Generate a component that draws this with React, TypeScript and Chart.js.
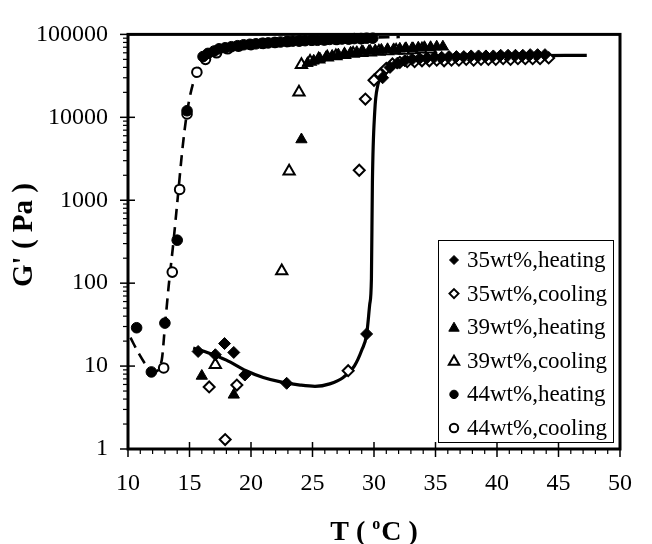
import React, { useEffect, useRef } from "react";
import { Chart, registerables } from "chart.js";

Chart.register(...registerables);

const SERIF = '"Liberation Serif", "Times New Roman", Times, serif';

// Axis ticks
const xTicks = [10, 15, 20, 25, 30, 35, 40, 45, 50];
const yTicks = [1, 10, 100, 1000, 10000, 100000];

// 35 wt% — heating (filled diamonds)
const t35Heat = [15.7, 17.1, 17.85, 18.6, 19.5, 22.9, 29.4, 30.7, 31.3, 31.9, 32.5, 33.1, 33.7, 34.3, 34.9, 35.5, 36.1, 36.7, 37.3, 37.9, 38.5, 39.1, 39.7, 40.3, 40.9, 41.5, 42.1, 42.7, 43.3, 43.9];
const g35Heat = [15, 13.7, 18.7, 14.6, 7.8, 6.2, 24.4, 30000, 40000, 45000, 48000, 50000, 51000, 52000, 53000, 53000, 54000, 54000, 54000, 55000, 55000, 55000, 55000, 56000, 56000, 56000, 56000, 57000, 57000, 57000];

// 35 wt% — cooling (open diamonds)
const t35Cool = [16.6, 17.9, 18.85, 27.9, 28.8, 29.3, 30.0, 30.5, 31.0, 31.5, 32.1, 32.7, 33.3, 33.9, 34.5, 35.1, 35.7, 36.3, 36.9, 37.5, 38.1, 38.7, 39.3, 39.9, 40.5, 41.1, 41.7, 42.3, 42.9, 43.5, 44.2];
const g35Cool = [5.6, 1.3, 5.9, 8.8, 2300, 16600, 28000, 33000, 39000, 44000, 46000, 47000, 47000, 48000, 48000, 49000, 48000, 49000, 49000, 50000, 49000, 50000, 50000, 50000, 51000, 50000, 51000, 51000, 51000, 51000, 52000];

// 39 wt% — heating (filled triangles)
const t39Heat = [16.0, 18.6, 24.1, 24.6, 25.1, 25.6, 26.1, 26.6, 27.1, 27.6, 28.1, 28.6, 29.1, 29.6, 30.1, 30.6, 31.1, 31.6, 32.1, 32.6, 33.1, 33.6, 34.1, 34.6, 35.1, 35.6];
const g39Heat = [7.6, 4.5, 5400, 45000, 48000, 51000, 53000, 55000, 57000, 58000, 60000, 61000, 62000, 63000, 64000, 65000, 66000, 66000, 67000, 68000, 68000, 69000, 70000, 70000, 71000, 71000];

// 39 wt% — cooling (open triangles)
const t39Cool = [17.1, 22.5, 23.1, 23.9, 24.1, 24.8, 25.5, 26.2, 26.9, 27.6, 28.3, 29.0, 29.7, 30.4, 31.1, 31.8, 32.5, 33.2, 33.9, 34.6];
const g39Cool = [10.4, 140, 2240, 20000, 43000, 47000, 50000, 53000, 55000, 57000, 59000, 60000, 61000, 62000, 63000, 64000, 64000, 65000, 66000, 66000];

// 44 wt% — heating (filled circles)
const t44Heat = [10.7, 11.9, 13.0, 14.0, 14.8, 16.1, 16.5, 17.0, 17.4, 17.9, 18.4, 18.9, 19.4, 19.9, 20.4, 20.9, 21.4, 21.9, 22.4, 22.9, 23.4, 23.9, 24.4, 24.9, 25.4, 25.9, 26.4, 26.9, 27.4, 27.9, 28.4, 28.9, 29.4, 29.9];
const g44Heat = [29, 8.5, 33, 330, 12000, 54000, 59000, 63000, 67000, 69000, 71000, 73000, 75000, 76000, 77000, 78000, 79000, 80000, 81000, 82000, 83000, 83000, 84000, 85000, 85000, 86000, 87000, 87000, 88000, 88000, 89000, 89000, 90000, 90000];

// 44 wt% — cooling (open circles)
const t44Cool = [12.9, 13.6, 14.2, 14.8, 15.6, 16.3, 17.2, 18.1, 19.0, 20.0, 21.0, 22.0, 23.0, 24.0, 25.0, 26.0, 27.0, 28.0, 29.0];
const g44Cool = [9.5, 136, 1350, 11000, 35000, 50000, 60000, 67000, 72000, 75000, 78000, 80000, 82000, 84000, 85000, 86000, 87000, 88000, 89000];

// Guide curves
const fit35T = [15.3, 16.5, 18.0, 19.6, 21.0, 22.5, 24.0, 25.2, 26.4, 27.5, 28.4, 29.0, 29.4, 29.65, 29.79, 29.87, 30.06, 30.3, 30.7, 31.24, 32.3, 34.0, 37.0, 42.0, 47.3];
const fit35G = [16.5, 14.5, 11.8, 8.8, 7.3, 6.4, 5.9, 5.7, 6.1, 7.3, 10, 15.5, 24, 55, 113, 1650, 11700, 24000, 31500, 41000, 48000, 51000, 53000, 55000, 56000];
const fit44T = [10.2, 10.9, 11.5, 12.2, 12.75, 13.0, 13.3, 13.7, 14.05, 14.45, 14.8, 15.3, 15.9, 16.8, 18.5, 21.0, 25.0, 29.0, 32.1];
const fit44G = [22, 14, 10.2, 8.6, 12, 30, 90, 320, 1100, 4500, 11500, 26000, 43000, 57000, 71000, 80000, 87000, 91000, 93000];

const legendLabels = ["35wt%,heating", "35wt%,cooling", "39wt%,heating", "39wt%,cooling", "44wt%,heating", "44wt%,cooling"];
const legendShapes = ["rectRot", "rectRot", "triangle", "triangle", "circle", "circle"];
const legendFilled = [true, false, true, false, true, false];

const pts = (t: number[], g: number[]) => t.map((x, i) => ({ x, y: g[i] }));

function drawMarker(ctx: CanvasRenderingContext2D, kind: string, x: number, y: number, r: number, filled: boolean) {
  ctx.beginPath();
  if (kind === "circle") {
    ctx.arc(x, y, r, 0, Math.PI * 2);
  } else if (kind === "rectRot") {
    ctx.moveTo(x, y - r);
    ctx.lineTo(x + r, y);
    ctx.lineTo(x, y + r);
    ctx.lineTo(x - r, y);
    ctx.closePath();
  } else {
    ctx.moveTo(x, y - r);
    ctx.lineTo(x + r * 0.866, y + r * 0.5);
    ctx.lineTo(x - r * 0.866, y + r * 0.5);
    ctx.closePath();
  }
  ctx.fillStyle = filled ? "#000" : "#fff";
  ctx.fill();
  ctx.lineWidth = filled ? 1 : 2;
  ctx.strokeStyle = "#000";
  ctx.stroke();
}

// Frame, tick marks, axis titles and legend
const decorPlugin = {
  id: "decor",
  afterDraw(chart: any) {
    const { ctx, chartArea: a, scales } = chart;
    const xs = scales.x;
    const ys = scales.y;
    const line = (x1: number, y1: number, x2: number, y2: number) => {
      ctx.beginPath();
      ctx.moveTo(x1, y1);
      ctx.lineTo(x2, y2);
      ctx.stroke();
    };
    ctx.save();
    ctx.strokeStyle = "#000";

    // x minor ticks (every degree)
    ctx.lineWidth = 1.2;
    for (let t = 10; t <= 50; t++) {
      if (t % 5 === 0) continue;
      const px = xs.getPixelForValue(t);
      line(px, a.bottom, px, a.bottom + 5);
    }
    // x major ticks
    ctx.lineWidth = 1.5;
    xTicks.forEach((t) => {
      const px = xs.getPixelForValue(t);
      line(px, a.bottom - 7, px, a.bottom + 8);
    });
    // y minor ticks
    ctx.lineWidth = 1.2;
    for (let d = 0; d < 5; d++) {
      for (let m = 2; m <= 9; m++) {
        const py = ys.getPixelForValue(m * Math.pow(10, d));
        line(a.left - 5, py, a.left, py);
      }
    }
    // y major ticks
    ctx.lineWidth = 1.5;
    yTicks.forEach((v) => {
      const py = ys.getPixelForValue(v);
      line(a.left - 8, py, a.left + 7, py);
    });

    // plot frame
    ctx.lineWidth = 3;
    ctx.strokeRect(a.left, a.top, a.right - a.left, a.bottom - a.top);

    // x title: T ( °C )
    ctx.fillStyle = "#000";
    ctx.textBaseline = "alphabetic";
    ctx.textAlign = "left";
    const big = `bold 28px ${SERIF}`;
    const small = `bold 16px ${SERIF}`;
    ctx.font = big;
    const w1 = ctx.measureText("T ( ").width;
    const w3 = ctx.measureText("C )").width;
    ctx.font = small;
    const w2 = ctx.measureText("o").width + 1;
    const cx = (a.left + a.right) / 2;
    const x0 = cx - (w1 + w2 + w3) / 2;
    const base = 540;
    ctx.font = big;
    ctx.fillText("T ( ", x0, base);
    ctx.font = small;
    ctx.fillText("o", x0 + w1, base - 11);
    ctx.font = big;
    ctx.fillText("C )", x0 + w1 + w2, base);

    // y title
    ctx.save();
    ctx.translate(25, 235);
    ctx.rotate(-Math.PI / 2);
    ctx.textAlign = "center";
    ctx.textBaseline = "middle";
    ctx.font = `bold 29px ${SERIF}`;
    ctx.fillText("G' ( Pa )", 0, 0);
    ctx.restore();

    // legend
    const lx = 438, ly = 240, lw = 175, lh = 202;
    ctx.fillStyle = "#fff";
    ctx.fillRect(lx, ly, lw, lh);
    ctx.lineWidth = 1;
    ctx.strokeStyle = "#000";
    ctx.strokeRect(lx + 0.5, ly + 0.5, lw, lh);
    ctx.font = `23px ${SERIF}`;
    ctx.textAlign = "left";
    ctx.textBaseline = "middle";
    legendLabels.forEach((lab, i) => {
      const y = ly + 20 + i * 33.6;
      const r = legendShapes[i] === "triangle" ? 6 : legendShapes[i] === "circle" ? 4.2 : 4.5;
      drawMarker(ctx, legendShapes[i], lx + 16, y + (legendShapes[i] === "triangle" ? 1 : 0), r, legendFilled[i]);
      ctx.fillStyle = "#000";
      ctx.fillText(lab, lx + 29, y + 1);
    });
    ctx.restore();
  },
};

const filled = (style: string, radius: number) => ({
  pointStyle: style,
  pointRadius: radius,
  pointBackgroundColor: "#000",
  pointBorderColor: "#000",
  pointBorderWidth: 1,
  showLine: false,
  order: 1,
  clip: false as const,
});
const open = (style: string, radius: number) => ({
  pointStyle: style,
  pointRadius: radius,
  pointBackgroundColor: "#fff",
  pointBorderColor: "#000",
  pointBorderWidth: 2,
  showLine: false,
  order: 1,
  clip: false as const,
});

export default function App() {
  const ref = useRef<HTMLCanvasElement>(null);

  useEffect(() => {
    if (!ref.current) return;
    const chart = new Chart(ref.current, {
      type: "scatter",
      data: {
        datasets: [
          { label: legendLabels[4], data: pts(t44Heat, g44Heat), ...filled("circle", 5.3) },
          { label: legendLabels[0], data: pts(t35Heat, g35Heat), ...filled("rectRot", 6) },
          { label: legendLabels[2], data: pts(t39Heat, g39Heat), ...filled("triangle", 6.5) },
          { label: legendLabels[1], data: pts(t35Cool, g35Cool), ...open("rectRot", 5.5) },
          { label: legendLabels[3], data: pts(t39Cool, g39Cool), ...open("triangle", 6.5) },
          { label: legendLabels[5], data: pts(t44Cool, g44Cool), ...open("circle", 4.8) },
          {
            label: "fit35",
            data: pts(fit35T, fit35G),
            showLine: true,
            pointRadius: 0,
            borderColor: "#000",
            borderWidth: 3.2,
            cubicInterpolationMode: "monotone",
            order: 2,
            clip: false as const,
          },
          {
            label: "fit44",
            data: pts(fit44T, fit44G),
            showLine: true,
            pointRadius: 0,
            borderColor: "#000",
            borderWidth: 2.6,
            borderDash: [11, 7],
            cubicInterpolationMode: "monotone",
            order: 2,
            clip: false as const,
          },
        ],
      },
      options: {
        responsive: false,
        devicePixelRatio: 1,
        animation: false,
        layout: { padding: { left: 0, top: 20, right: 18, bottom: 0 } },
        plugins: { legend: { display: false }, tooltip: { enabled: false } },
        scales: {
          x: {
            type: "linear",
            min: 10,
            max: 50,
            afterBuildTicks: (s: any) => {
              s.ticks = xTicks.map((v) => ({ value: v }));
            },
            afterFit: (s: any) => {
              s.height = 95;
            },
            grid: { display: false, drawTicks: false },
            border: { display: false },
            ticks: {
              font: { family: SERIF, size: 24 },
              color: "#000",
              padding: 20,
              autoSkip: false,
              maxRotation: 0,
              callback: (v: any) => String(v),
            },
          },
          y: {
            type: "logarithmic",
            min: 1,
            max: 100000,
            afterBuildTicks: (s: any) => {
              s.ticks = yTicks.map((v) => ({ value: v }));
            },
            afterFit: (s: any) => {
              s.width = 128;
            },
            grid: { display: false, drawTicks: false },
            border: { display: false },
            ticks: {
              font: { family: SERIF, size: 24 },
              color: "#000",
              padding: 20,
              autoSkip: false,
              callback: (v: any) => String(v),
            },
          },
        },
      },
      plugins: [decorPlugin],
    });
    return () => chart.destroy();
  }, []);

  return (
    <div style={{ position: "absolute", left: 0, top: 0, width: 652, height: 544, background: "#fff" }}>
      <canvas ref={ref} width={652} height={544} style={{ display: "block", width: 652, height: 544 }} />
    </div>
  );
}
